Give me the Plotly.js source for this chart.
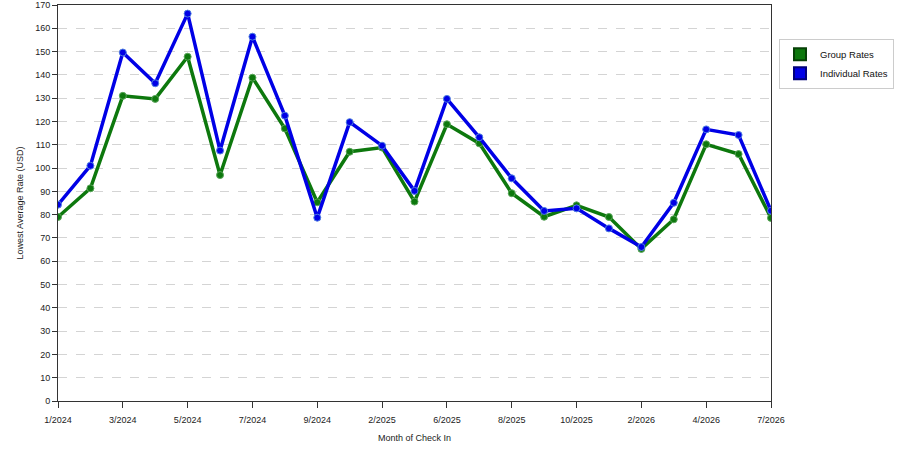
<!DOCTYPE html>
<html>
<head>
<meta charset="utf-8">
<script src="https://cdn.plot.ly/plotly-3.0.1.min.js"></script>
<style>
  body { margin: 0; background: #fff; }
  #chart { width: 900px; height: 450px; }
</style>
</head>
<body>
<div id="chart"></div>
<script>
// months of check in (only every other one is labelled on the axis)
const months = ['1/2024', '2/2024', '3/2024', '4/2024', '5/2024', '6/2024', '7/2024', '8/2024',
    '9/2024', '12/2024', '2/2025', '4/2025', '6/2025', '7/2025', '8/2025', '9/2025',
    '10/2025', '12/2025', '2/2026', '3/2026', '4/2026', '5/2026', '7/2026'];
const tickMonths = ['1/2024', '3/2024', '5/2024', '7/2024', '9/2024', '2/2025',
    '6/2025', '8/2025', '10/2025', '2/2026', '4/2026', '7/2026'];

// lowest average rate (USD)
const groupRates = [79, 91.3, 131, 129.7, 147.8, 97, 138.8, 117, 85.3, 107, 108.8, 85.6,
    118.8, 110.6, 89.2, 79.1, 84, 79, 65.3, 78, 110.2, 106, 78.6];
const individualRates = [84.3, 101, 149.6, 136.4, 166.3, 107.5, 156.4, 122.5, 78.7, 119.7, 109.6, 90.2,
    129.7, 113.2, 95.6, 81.6, 82.7, 74.1, 66.1, 85.1, 116.6, 114.2, 81.7];

const GREEN = '#0d780d';
const BLUE = '#0000e6';

// line trace, legend drawn by the square-only traces below
let lineTrace = (y, color, lightColor) => ({
    x: months,
    y: y,
    type: 'scatter',
    mode: 'lines+markers',
    showlegend: false,
    hoverinfo: 'x+y',
    line: { color: color, width: 3.5 },
    marker: { color: color, size: 7, line: { color: lightColor, width: 1 } }
});

let legendTrace = (name, color, border) => ({
    x: [null],
    y: [null],
    type: 'scatter',
    mode: 'markers',
    name: name,
    marker: { symbol: 'square', size: 13, color: color, line: { color: border, width: 1 } }
});

let data = [
    lineTrace(groupRates, GREEN, '#5aa55a'),
    lineTrace(individualRates, BLUE, '#4f7fe0'),
    legendTrace('Group Rates', GREEN, '#064006'),
    legendTrace('Individual Rates', BLUE, '#00007a')
];

let font = { family: 'Liberation Sans, Arial, sans-serif', size: 9, color: '#222' };

let layout = {
    width: 900,
    height: 450,
    margin: { l: 58, r: 129, t: 5, b: 49 },
    paper_bgcolor: '#fff',
    plot_bgcolor: '#fff',
    font: font,
    showlegend: true,
    legend: {
        x: 1.0112, y: 0.915, xanchor: 'left', yanchor: 'top',
        bordercolor: '#cccccc', borderwidth: 1,
        font: { family: 'Liberation Sans, Arial, sans-serif', size: 9.5, color: '#111' },
        itemsizing: 'constant', itemwidth: 30, tracegroupgap: 2
    },
    xaxis: {
        type: 'category',
        categoryorder: 'array',
        categoryarray: months,
        range: [0, months.length - 1],
        tickvals: tickMonths,
        ticktext: tickMonths,
        ticks: 'outside', ticklen: 6, tickcolor: '#333',
        ticklabelstandoff: 4,
        showgrid: false, zeroline: false,
        showline: true, linecolor: '#333', linewidth: 1, mirror: true,
        tickfont: font,
        title: { text: 'Month of Check In', font: font, standoff: 10 }
    },
    yaxis: {
        range: [0, 170],
        dtick: 10,
        ticks: 'outside', ticklen: 5, tickcolor: '#333',
        showgrid: true, gridcolor: '#d4d4d4', griddash: 'dash', gridwidth: 1,
        zeroline: false,
        showline: true, linecolor: '#333', linewidth: 1, mirror: true,
        tickfont: font,
        title: { text: 'Lowest Average Rate (USD)', font: font, standoff: 10 }
    },
    hovermode: 'closest'
};

Plotly.newPlot('chart', data, layout, { staticPlot: true });
</script>
</body>
</html>
